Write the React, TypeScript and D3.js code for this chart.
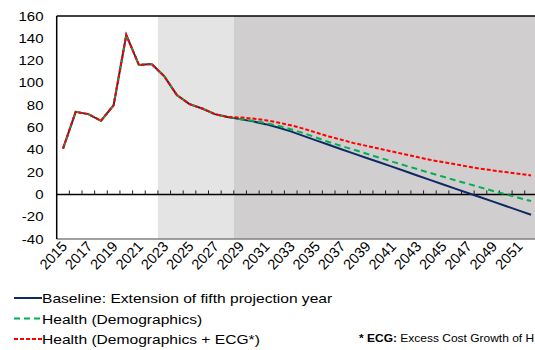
import React from "react";
import * as d3 from "d3";

const years: number[] = d3.range(2015, 2053);
const history: number[] = [41, 74, 72, 66, 80, 143, 116, 117, 106, 89, 81, 77, 72, 69.5];
const baselineProj: number[] = [67.5, 65.5, 63, 60, 56.5, 52.5, 48.5, 44.5, 40.5, 36.6, 32.7, 28.8, 24.9, 21, 17, 13, 9.1, 5.2, 1.3, -2.6, -6.5, -10.4, -14.3, -18.2];
const demoProj: number[] = [67.5, 66, 64, 61.5, 58.5, 55, 51, 47, 43.5, 40, 36.5, 33, 29.5, 26, 22.7, 19.3, 16, 12.7, 9.5, 6.3, 3.1, 0, -3, -6];
const ecgProj: number[] = [69, 68, 66.5, 64.5, 62, 59, 55.5, 52, 49, 46, 43.5, 41, 38.5, 36, 33.5, 31, 29, 27, 25, 23, 21.5, 20, 18.5, 17];
const yTicks: number[] = [-40, -20, 0, 20, 40, 60, 80, 100, 120, 140, 160];
const labelYears: number[] = d3.range(2015, 2053, 2);
const lightStart = 2023;
const darkStart = 2029;

const seriesNames = [
  "Baseline: Extension of fifth projection year",
  "Health (Demographics)",
  "Health (Demographics + ECG*)",
];
const footnoteKey = "* ECG:";
const footnoteText = " Excess Cost Growth of H";

export default function App() {
  const W = 535, H = 350;
  const left = 56.7, top = 16, bottom = 239;
  const bw = 12.65;
  const sx = 1.2; // horizontal text stretch seen in the reference
  const x = d3.scaleBand<number>().domain(years).range([left, left + bw * years.length]).padding(0);
  const y = d3.scaleLinear().domain([-40, 160]).range([bottom, top]);
  const cx = (yr: number) => (x(yr) as number) + x.bandwidth() / 2;
  const line = d3.line<[number, number]>().x(d => cx(d[0])).y(d => y(d[1]));
  const mk = (proj: number[]) => [...history, ...proj].map((v, i) => [years[i], v] as [number, number]);
  const base = mk(baselineProj), demo = mk(demoProj), ecg = mk(ecgProj);
  const right = left + bw * years.length;
  const font = "Arial, 'Liberation Sans', sans-serif";

  return (
    <svg width={W} height={H} style={{ position: "absolute", left: 0, top: 0 }} fontFamily={font}>
      <rect x={0} y={0} width={W} height={H} fill="#fff" />
      <rect x={x(lightStart)} y={top} width={(x(darkStart) as number) - (x(lightStart) as number)} height={bottom - top} fill="#e4e4e4" />
      <rect x={x(darkStart)} y={top} width={right - (x(darkStart) as number)} height={bottom - top} fill="#d0cecf" />
      {/* zero axis */}
      <line x1={left} x2={right} y1={y(0)} y2={y(0)} stroke="#000" strokeWidth={1.5} />
      {years.map((yr, i) => i > 0 ? (
        <line key={yr} x1={x(yr)} x2={x(yr)} y1={y(0) - 4} y2={y(0)} stroke="#222" strokeWidth={1} />
      ) : null)}
      {/* lines */}
      <path d={line(base) || ""} fill="none" stroke="#0f2a63" strokeWidth={2} />
      <path d={line(demo) || ""} fill="none" stroke="#00b050" strokeWidth={2} strokeDasharray="6,4" />
      <path d={line(ecg) || ""} fill="none" stroke="#ff0000" strokeWidth={2} strokeDasharray="4,2" />
      {/* frame */}
      <line x1={left} x2={right} y1={top} y2={top} stroke="#000" strokeWidth={1.5} />
      <line x1={left} x2={right} y1={bottom} y2={bottom} stroke="#808080" strokeWidth={1.5} />
      <line x1={left} x2={left} y1={top} y2={bottom} stroke="#000" strokeWidth={1.5} />
      {/* y ticks */}
      {yTicks.map(t => (
        <g key={t} transform={`translate(43.5,${y(t) + 4.5}) scale(${sx},1)`}>
          <text x={0} y={0} textAnchor="end" fontSize={12.5} fill="#000">{t}</text>
        </g>
      ))}
      {/* x labels */}
      {labelYears.map(yr => (
        <g key={yr} transform={`translate(${cx(yr) + 5},${bottom + 8}) rotate(-47)`}>
          <text x={0} y={0} textAnchor="end" fontSize={14.5} fill="#000">{yr}</text>
        </g>
      ))}
      {/* legend */}
      {seriesNames.map((name, i) => {
        const ly = 298 + i * 20.5;
        const stroke = i === 0 ? "#0f2a63" : i === 1 ? "#00b050" : "#ff0000";
        const dash = i === 0 ? undefined : i === 1 ? "6,4" : "4,2";
        return (
          <g key={name}>
            <line x1={14} x2={42} y1={ly} y2={ly} stroke={stroke} strokeWidth={2} strokeDasharray={dash} />
            <g transform={`translate(42,${ly + 5}) scale(${sx},1)`}>
              <text x={0} y={0} fontSize={13} fill="#000">{name}</text>
            </g>
          </g>
        );
      })}
      <g transform={`translate(359,342) scale(${sx},1)`}>
        <text x={0} y={0} fontSize={10} fill="#000">
          <tspan fontWeight="bold">{footnoteKey}</tspan>{footnoteText}
        </text>
      </g>
    </svg>
  );
}
